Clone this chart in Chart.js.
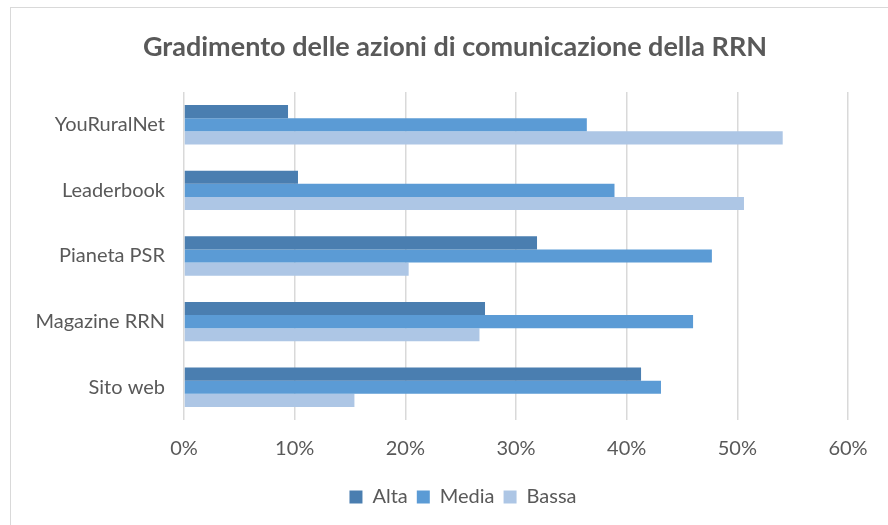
<!DOCTYPE html>
<html>
<head>
<meta charset="utf-8">
<script src="https://cdn.jsdelivr.net/npm/chart.js@4"></script>
<style>
  html, body { margin: 0; padding: 0; background: #fff; }
  #wrap { width: 888px; height: 525px; position: relative; }
</style>
</head>
<body>
<div id="wrap"><canvas id="chart" width="888" height="525"></canvas></div>
<script>
// --- data ---
const categories = ['YouRuralNet', 'Leaderbook', 'Pianeta PSR', 'Magazine RRN', 'Sito web'];
const alta  = [9.4, 10.3, 31.9, 27.2, 41.3];
const media = [36.4, 38.9, 47.7, 46.0, 43.1];
const bassa = [54.1, 50.6, 20.3, 26.7, 15.4];
const seriesNames = ['Alta', 'Media', 'Bassa'];
const xTicks = [0, 10, 20, 30, 40, 50, 60];
const chartTitle = 'Gradimento delle azioni di comunicazione della RRN';

Chart.defaults.font.family = "Lato, 'Open Sans', sans-serif";
Chart.defaults.color = '#595959';

// frame around the chart box + title centred on the whole box
const frame = {
    id: 'frame',
    afterLayout(chart) {
        // legend sits centred under the whole box, not the plot
        chart.legend.left += 34;
        chart.legend.right += 34;
    },
    beforeDraw(chart) {
        const c = chart.ctx;
        c.save();
        c.strokeStyle = '#d9d9d9';
        c.lineWidth = 1;
        c.strokeRect(10.5, 7.5, chart.width, chart.height);
        c.restore();
    },
    afterDraw(chart) {
        const c = chart.ctx;
        c.save();
        c.fillStyle = '#595959';
        c.font = "bold 27px Lato, 'Open Sans', sans-serif";
        c.textAlign = 'center';
        c.textBaseline = 'middle';
        c.fillText(chartTitle, 455, 47);
        c.restore();
    }
};

new Chart(document.getElementById('chart'), {
    type: 'bar',
    data: {
        labels: categories,
        datasets: [
            { label: seriesNames[0], data: alta,  backgroundColor: '#4a7eb0' },
            { label: seriesNames[1], data: media, backgroundColor: '#5b9bd5' },
            { label: seriesNames[2], data: bassa, backgroundColor: '#adc6e5' }
        ]
    },
    options: {
        indexAxis: 'y',
        responsive: false,
        animation: false,
        datasets: { bar: { categoryPercentage: 0.6, barPercentage: 1.0 } },
        layout: { padding: { left: 10, right: 40, top: 92, bottom: 8 } },
        plugins: {
            title: { display: false },
            legend: {
                position: 'bottom',
                labels: { boxWidth: 13, boxHeight: 13, font: { size: 20 }, color: '#595959', padding: 9 }
            },
            tooltip: { enabled: false }
        },
        scales: {
            x: {
                min: 0, max: 60,
                afterBuildTicks: (s) => { s.ticks = xTicks.map(v => ({ value: v })); },
                ticks: { callback: v => v + '%', font: { size: 20 }, color: '#595959', padding: 17 },
                grid: { color: '#d9d9d9', lineWidth: 1.5, drawTicks: false },
                border: { display: false }
            },
            y: {
                afterFit: (s) => { s.width = 174; },
                ticks: { font: { size: 20 }, color: '#595959', padding: 11 },
                grid: { display: false },
                border: { display: false }
            }
        }
    },
    plugins: [frame]
});
</script>
</body>
</html>
